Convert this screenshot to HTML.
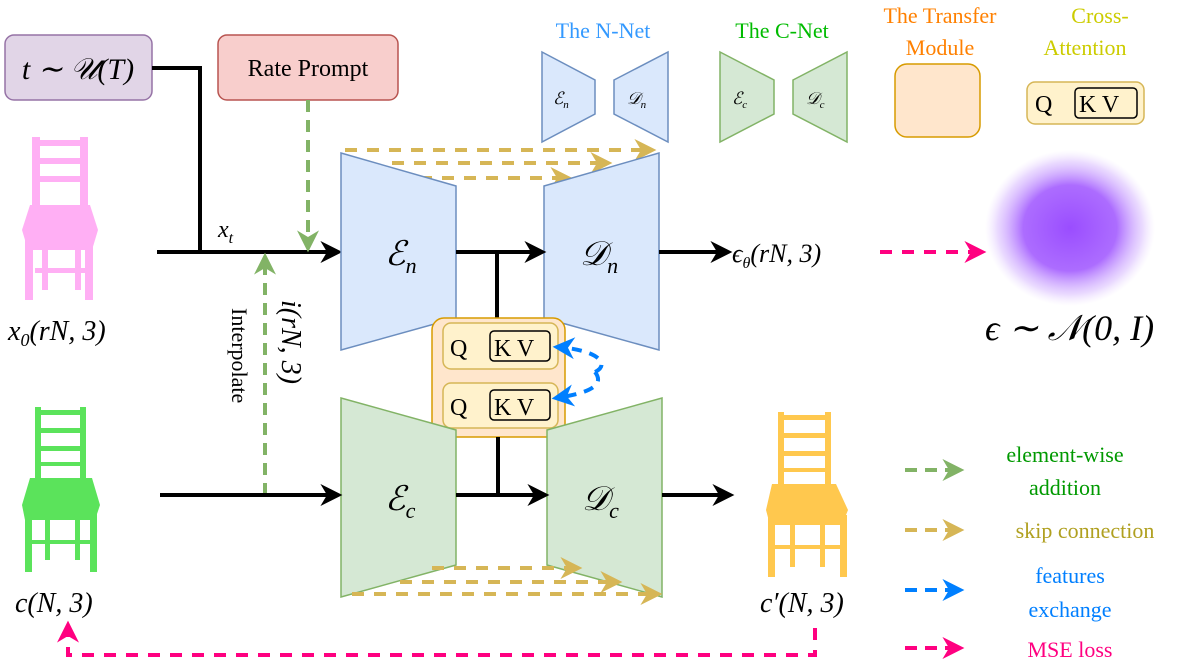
<!DOCTYPE html>
<html><head><meta charset="utf-8"><style>
body{margin:0;background:#fff}
svg{display:block}
text{font-family:"Liberation Serif",serif}
.m{font-style:italic}
</style></head><body>
<svg width="1182" height="662" viewBox="0 0 1182 662" xmlns="http://www.w3.org/2000/svg">
<defs>
<marker id="ab" viewBox="0 0 10 10" refX="8" refY="5" markerWidth="22" markerHeight="22" orient="auto" markerUnits="userSpaceOnUse"><path d="M0,0 L10,5 L0,10 L3,5z" fill="#000"/></marker>
<marker id="ag" viewBox="0 0 10 10" refX="8" refY="5" markerWidth="22" markerHeight="22" orient="auto" markerUnits="userSpaceOnUse"><path d="M0,0 L10,5 L0,10 L3,5z" fill="#82b366"/></marker>
<marker id="ay" viewBox="0 0 10 10" refX="8" refY="5" markerWidth="22" markerHeight="22" orient="auto" markerUnits="userSpaceOnUse"><path d="M0,0 L10,5 L0,10 L3,5z" fill="#d6b656"/></marker>
<marker id="abl" viewBox="0 0 10 10" refX="8" refY="5" markerWidth="22" markerHeight="22" orient="auto" markerUnits="userSpaceOnUse"><path d="M0,0 L10,5 L0,10 L3,5z" fill="#007fff"/></marker>
<marker id="ap" viewBox="0 0 10 10" refX="8" refY="5" markerWidth="22" markerHeight="22" orient="auto" markerUnits="userSpaceOnUse"><path d="M0,0 L10,5 L0,10 L3,5z" fill="#ff0080"/></marker>
<radialGradient id="noise"><stop offset="0" stop-color="#9a4dff"/><stop offset="0.55" stop-color="#a35cff" stop-opacity="0.9"/><stop offset="0.85" stop-color="#c9a0ff" stop-opacity="0.4"/><stop offset="1" stop-color="#e0c8ff" stop-opacity="0"/></radialGradient>
</defs>

<rect x="5" y="35" width="147" height="65" rx="9" fill="#e1d5e7" stroke="#9673a6" stroke-width="1.5"/>
<text x="78" y="79" font-size="30" text-anchor="middle" class="m">t ∼ 𝒰(T)</text>
<rect x="218" y="35" width="180" height="65" rx="9" fill="#f8cecc" stroke="#b85450" stroke-width="1.5"/>
<text x="308" y="76" font-size="24" text-anchor="middle">Rate Prompt</text>

<path d="M152,68 H200 V252" fill="none" stroke="#000" stroke-width="4"/>
<path d="M157,252 H338" stroke="#000" stroke-width="4" marker-end="url(#ab)"/>
<text x="218" y="237" font-size="24" class="m">x<tspan font-size="16" dy="6">t</tspan></text>
<path d="M308,100 V248" stroke="#82b366" stroke-width="4" stroke-dasharray="12,8" marker-end="url(#ag)"/>
<path d="M265,495 V257" stroke="#82b366" stroke-width="4" stroke-dasharray="12,8" marker-end="url(#ag)"/>
<text transform="translate(232,308) rotate(90)" font-size="22">Interpolate</text>
<text transform="translate(282,300) rotate(90)" font-size="28" class="m">i(rN, 3)</text>

<path d="M345,150 H652" stroke="#d6b656" stroke-width="4" stroke-dasharray="12,10" marker-end="url(#ay)"/>
<path d="M392,163 H608" stroke="#d6b656" stroke-width="4" stroke-dasharray="12,10" marker-end="url(#ay)"/>
<path d="M420,178 H568" stroke="#d6b656" stroke-width="4" stroke-dasharray="12,10" marker-end="url(#ay)"/>

<polygon points="341,153 456,186 456,318 341,350" fill="#dae8fc" stroke="#6c8ebf" stroke-width="1.5"/>
<polygon points="544,186 659,153 659,350 544,318" fill="#dae8fc" stroke="#6c8ebf" stroke-width="1.5"/>
<text x="385" y="265" font-size="34" class="m">ℰ<tspan font-size="22" dy="8">n</tspan></text>
<text x="580" y="265" font-size="34" class="m">𝒟<tspan font-size="22" dy="8">n</tspan></text>
<path d="M456,252 H542" stroke="#000" stroke-width="4" marker-end="url(#ab)"/>
<path d="M497,252 V322" stroke="#000" stroke-width="4"/>
<path d="M659,252 H728" stroke="#000" stroke-width="4" marker-end="url(#ab)"/>
<text x="732" y="262" font-size="26" class="m">ϵ<tspan font-size="16" dy="6">θ</tspan><tspan dy="-6">(rN, 3)</tspan></text>
<path d="M880,252 H982" stroke="#ff0080" stroke-width="4" stroke-dasharray="12,10" marker-end="url(#ap)"/>
<ellipse cx="1070" cy="228" rx="85" ry="78" fill="url(#noise)"/>
<text x="985" y="340" font-size="36" class="m">ϵ ∼ 𝒩(0, I)</text>

<rect x="432" y="318" width="133" height="119" rx="12" fill="#ffe6cc" stroke="#d79b00" stroke-width="1.5"/>
<rect x="443" y="323" width="115" height="46" rx="8" fill="#fff2cc" stroke="#d6b656" stroke-width="1.5"/>
<rect x="490" y="331" width="60" height="30" rx="4" fill="none" stroke="#000" stroke-width="1.5"/>
<text x="450" y="356" font-size="24">Q</text><text x="494" y="356" font-size="24">K  V</text>
<rect x="443" y="383" width="115" height="45" rx="8" fill="#fff2cc" stroke="#d6b656" stroke-width="1.5"/>
<rect x="490" y="390" width="60" height="30" rx="4" fill="none" stroke="#000" stroke-width="1.5"/>
<text x="450" y="415" font-size="24">Q</text><text x="494" y="415" font-size="24">K  V</text>
<path d="M595,372 C610,365 600,350 557,347" fill="none" stroke="#007fff" stroke-width="4" stroke-dasharray="10,8" marker-end="url(#abl)"/>
<path d="M595,372 C605,385 590,393 556,398" fill="none" stroke="#007fff" stroke-width="4" stroke-dasharray="10,8" marker-end="url(#abl)"/>

<polygon points="341,398 456,430 456,565 341,597" fill="#d5e8d4" stroke="#82b366" stroke-width="1.5"/>
<polygon points="547,430 662,398 662,597 547,565" fill="#d5e8d4" stroke="#82b366" stroke-width="1.5"/>
<text x="385" y="510" font-size="34" class="m">ℰ<tspan font-size="22" dy="8">c</tspan></text>
<text x="582" y="510" font-size="34" class="m">𝒟<tspan font-size="22" dy="8">c</tspan></text>
<path d="M160,495 H338" stroke="#000" stroke-width="4" marker-end="url(#ab)"/>
<path d="M456,495 H545" stroke="#000" stroke-width="4" marker-end="url(#ab)"/>
<path d="M498,437 V495" stroke="#000" stroke-width="4"/>
<path d="M662,495 H730" stroke="#000" stroke-width="4" marker-end="url(#ab)"/>
<path d="M432,568 H578" stroke="#d6b656" stroke-width="4" stroke-dasharray="12,10" marker-end="url(#ay)"/>
<path d="M400,582 H618" stroke="#d6b656" stroke-width="4" stroke-dasharray="12,10" marker-end="url(#ay)"/>
<path d="M352,594 H658" stroke="#d6b656" stroke-width="4" stroke-dasharray="12,10" marker-end="url(#ay)"/>

<g fill="#ff9cf2" opacity="0.8">
<rect x="32" y="137" width="8" height="110"/><rect x="80" y="137" width="8" height="110"/>
<rect x="35" y="140" width="50" height="6"/><rect x="38" y="158" width="45" height="6"/><rect x="40" y="176" width="42" height="6"/>
<path d="M30,205 L90,205 L98,230 L92,250 L28,250 L22,230z"/>
<rect x="25" y="240" width="8" height="60"/><rect x="85" y="240" width="8" height="60"/><rect x="42" y="240" width="6" height="50"/><rect x="75" y="240" width="6" height="50"/>
<rect x="35" y="268" width="50" height="5"/>
</g>
<g fill="#33dd33" opacity="0.8">
<rect x="35" y="407" width="6" height="100"/><rect x="80" y="407" width="6" height="100"/>
<rect x="37" y="410" width="45" height="5"/><rect x="38" y="428" width="44" height="5"/><rect x="39" y="446" width="42" height="5"/><rect x="40" y="462" width="40" height="4"/>
<path d="M30,478 L92,478 L100,505 L95,520 L25,520 L22,505z"/>
<rect x="25" y="510" width="7" height="62"/><rect x="90" y="510" width="7" height="62"/><rect x="45" y="510" width="5" height="50"/><rect x="75" y="510" width="5" height="50"/>
<rect x="30" y="540" width="62" height="4"/>
</g>
<g fill="#ffbb22" opacity="0.8">
<rect x="778" y="412" width="6" height="100"/><rect x="825" y="412" width="6" height="100"/>
<rect x="780" y="415" width="48" height="5"/><rect x="781" y="433" width="46" height="5"/><rect x="782" y="451" width="44" height="5"/><rect x="783" y="468" width="42" height="4"/>
<path d="M772,484 L836,484 L848,510 L842,525 L770,525 L766,510z"/>
<rect x="768" y="515" width="7" height="62"/><rect x="840" y="515" width="7" height="62"/><rect x="790" y="515" width="5" height="52"/><rect x="820" y="515" width="5" height="52"/>
<rect x="775" y="545" width="68" height="4"/>
</g>
<text x="8" y="340" font-size="28" class="m">x<tspan font-size="18" dy="6">0</tspan><tspan dy="-6">(rN, 3)</tspan></text>
<text x="15" y="612" font-size="28" class="m">c(N, 3)</text>
<text x="760" y="612" font-size="28" class="m">c′(N, 3)</text>

<path d="M815,628 V655 H68 V625" fill="none" stroke="#ff0080" stroke-width="4" stroke-dasharray="12,10" marker-end="url(#ap)"/>

<text x="603" y="38" font-size="22" fill="#3399ff" text-anchor="middle">The N-Net</text>
<polygon points="542,52 595,80 595,114 542,142" fill="#dae8fc" stroke="#6c8ebf" stroke-width="1.5"/>
<polygon points="614,80 668,52 668,142 614,114" fill="#dae8fc" stroke="#6c8ebf" stroke-width="1.5"/>
<text x="553" y="104" font-size="17" class="m">ℰ<tspan font-size="11" dy="4">n</tspan></text>
<text x="627" y="104" font-size="17" class="m">𝒟<tspan font-size="11" dy="4">n</tspan></text>
<text x="782" y="38" font-size="22" fill="#00bb00" text-anchor="middle">The C-Net</text>
<polygon points="720,52 774,80 774,114 720,142" fill="#d5e8d4" stroke="#82b366" stroke-width="1.5"/>
<polygon points="793,80 847,52 847,142 793,114" fill="#d5e8d4" stroke="#82b366" stroke-width="1.5"/>
<text x="732" y="104" font-size="17" class="m">ℰ<tspan font-size="11" dy="4">c</tspan></text>
<text x="806" y="104" font-size="17" class="m">𝒟<tspan font-size="11" dy="4">c</tspan></text>
<text x="940" y="23" font-size="22" fill="#ff8000" text-anchor="middle">The Transfer</text>
<text x="940" y="55" font-size="22" fill="#ff8000" text-anchor="middle">Module</text>
<rect x="895" y="64" width="85" height="73" rx="12" fill="#ffe6cc" stroke="#d79b00" stroke-width="1.5"/>
<text x="1100" y="23" font-size="22" fill="#cccc00" text-anchor="middle">Cross-</text>
<text x="1085" y="55" font-size="22" fill="#cccc00" text-anchor="middle">Attention</text>
<rect x="1027" y="82" width="117" height="42" rx="8" fill="#fff2cc" stroke="#d6b656" stroke-width="1.5"/>
<rect x="1075" y="88" width="62" height="30" rx="4" fill="none" stroke="#000" stroke-width="1.5"/>
<text x="1035" y="112" font-size="24">Q</text><text x="1079" y="112" font-size="24">K  V</text>

<path d="M905,470 H960" stroke="#82b366" stroke-width="4" stroke-dasharray="12,8" marker-end="url(#ag)"/>
<text x="1065" y="462" font-size="22" fill="#009900" text-anchor="middle">element-wise</text>
<text x="1065" y="495" font-size="22" fill="#009900" text-anchor="middle">addition</text>
<path d="M905,530 H960" stroke="#d6b656" stroke-width="4" stroke-dasharray="12,8" marker-end="url(#ay)"/>
<text x="1085" y="538" font-size="22" fill="#b0a020" text-anchor="middle">skip connection</text>
<path d="M905,590 H960" stroke="#007fff" stroke-width="4" stroke-dasharray="12,8" marker-end="url(#abl)"/>
<text x="1070" y="583" font-size="22" fill="#007fff" text-anchor="middle">features</text>
<text x="1070" y="617" font-size="22" fill="#007fff" text-anchor="middle">exchange</text>
<path d="M905,648 H960" stroke="#ff0080" stroke-width="4" stroke-dasharray="12,8" marker-end="url(#ap)"/>
<text x="1070" y="657" font-size="22" fill="#ff0080" text-anchor="middle">MSE loss</text>
</svg>
</body></html>
